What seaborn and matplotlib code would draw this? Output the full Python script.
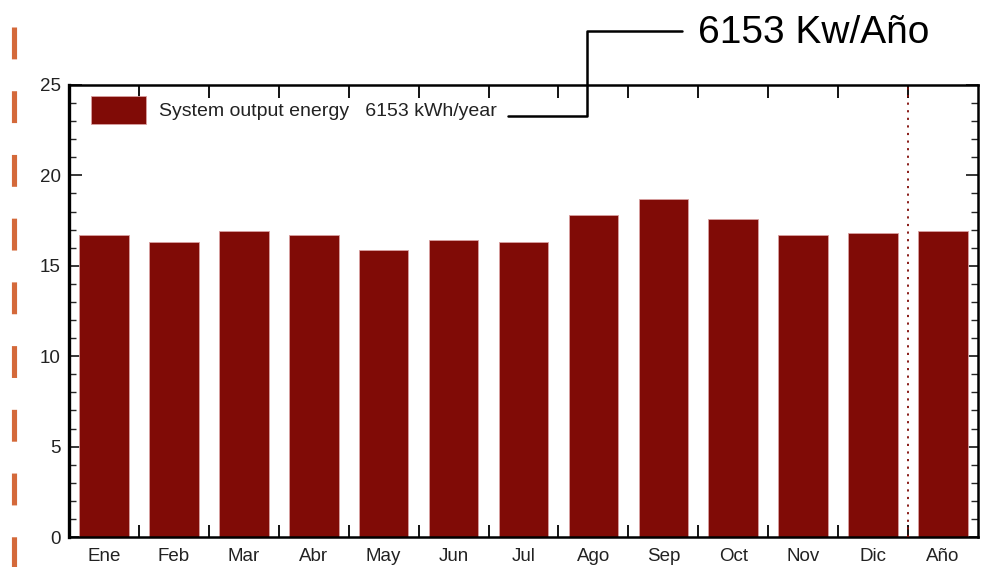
import matplotlib
matplotlib.use("Agg")
import matplotlib.pyplot as plt
from matplotlib.lines import Line2D
from matplotlib.patches import Patch
from matplotlib.ticker import MultipleLocator, FixedLocator, NullFormatter
import seaborn as sns
import pandas as pd

# Monthly system output (kWh/day) plus the yearly average
months = ["Ene", "Feb", "Mar", "Abr", "May", "Jun", "Jul", "Ago", "Sep", "Oct", "Nov", "Dic", "Año"]
energy = [16.7, 16.3, 16.9, 16.7, 15.9, 16.4, 16.3, 17.8, 18.7, 17.6, 16.7, 16.8, 16.9]
legend_text = "System output energy   6153 kWh/year"
callout_text = "6153 Kw/Año"

sns.set_theme(style="white")
plt.rcParams["font.family"] = ["Liberation Sans", "DejaVu Sans"]

bar_color = "#800b06"
text_color = "#222222"
df = pd.DataFrame({"mes": months, "energia": energy})

W, H = 995, 567
fig = plt.figure(figsize=(W / 100, H / 100), dpi=100)
ax = fig.add_axes([69 / W, 1 - 537 / H, (978 - 69) / W, (537 - 85) / H])

sns.barplot(data=df, x="mes", y="energia", color=bar_color, saturation=1,
            width=0.71, edgecolor="#d9a0a0", linewidth=0.6, ax=ax)

ax.set_xlim(-0.5, len(months) - 0.5)
ax.set_ylim(0, 25)
ax.set_xlabel("")
ax.set_ylabel("")

# Separator between the months and the annual value
ax.axvline(len(months) - 1.5, color=bar_color, linestyle=(0, (1.2, 3)), linewidth=1.3, zorder=3)

# X: tick marks on slot boundaries, labels under bar centres
ax.xaxis.set_major_locator(FixedLocator([i + 0.5 for i in range(len(months) - 1)]))
ax.xaxis.set_major_formatter(NullFormatter())
ax.xaxis.set_minor_locator(FixedLocator(list(range(len(months)))))
ax.set_xticklabels(months, minor=True)
ax.tick_params(axis="x", which="major", direction="in", length=9, width=1.3,
               color="black", top=True, bottom=True)
ax.tick_params(axis="x", which="minor", length=0, labelsize=13.5, pad=8, labelcolor=text_color)

# Y: major every 5, minor every 1, on both sides
ax.yaxis.set_major_locator(MultipleLocator(5))
ax.yaxis.set_minor_locator(MultipleLocator(1))
ax.tick_params(axis="y", which="major", direction="in", length=9, width=1.3,
               left=True, right=True, labelsize=13.5, pad=6, labelcolor=text_color)
ax.tick_params(axis="y", which="minor", direction="in", length=5, width=1.0,
               left=True, right=True)

for side, lw in (("left", 2.4), ("bottom", 1.8), ("top", 1.8), ("right", 1.8)):
    ax.spines[side].set_visible(True)
    ax.spines[side].set_color("black")
    ax.spines[side].set_linewidth(lw)

# Legend placed with its swatch just inside the top-left corner
leg_fs = 14
leg = ax.legend(handles=[Patch(facecolor=bar_color, edgecolor="#d9a0a0", linewidth=0.6)],
                labels=[legend_text], loc="upper left", frameon=False,
                fontsize=leg_fs, handlelength=2.83, handleheight=1.84,
                borderpad=0, borderaxespad=0, handletextpad=0.67,
                bbox_to_anchor=(22 / 909, 1 - 11 / 452))
for t in leg.get_texts():
    t.set_color(text_color)

# Callout linking the legend total to the headline figure
px = [508, 587, 587, 682]
py = [116, 116, 31, 31]
fig.add_artist(Line2D([x / W for x in px], [1 - y / H for y in py],
                      transform=fig.transFigure, color="black", linewidth=1.8))
fig.text(698 / W, 1 - 33 / H, callout_text, fontsize=28, color="black",
         ha="left", va="center")

# Orange dashed rule along the left edge
fig.add_artist(Line2D([14.5 / W, 14.5 / W], [1 - 27 / H, 0],
                      transform=fig.transFigure, color="#d4693a", linewidth=3.7,
                      linestyle=(0, (6.2, 6.2)), solid_capstyle="butt", dash_capstyle="butt"))

fig.savefig("out.png", dpi=100)
